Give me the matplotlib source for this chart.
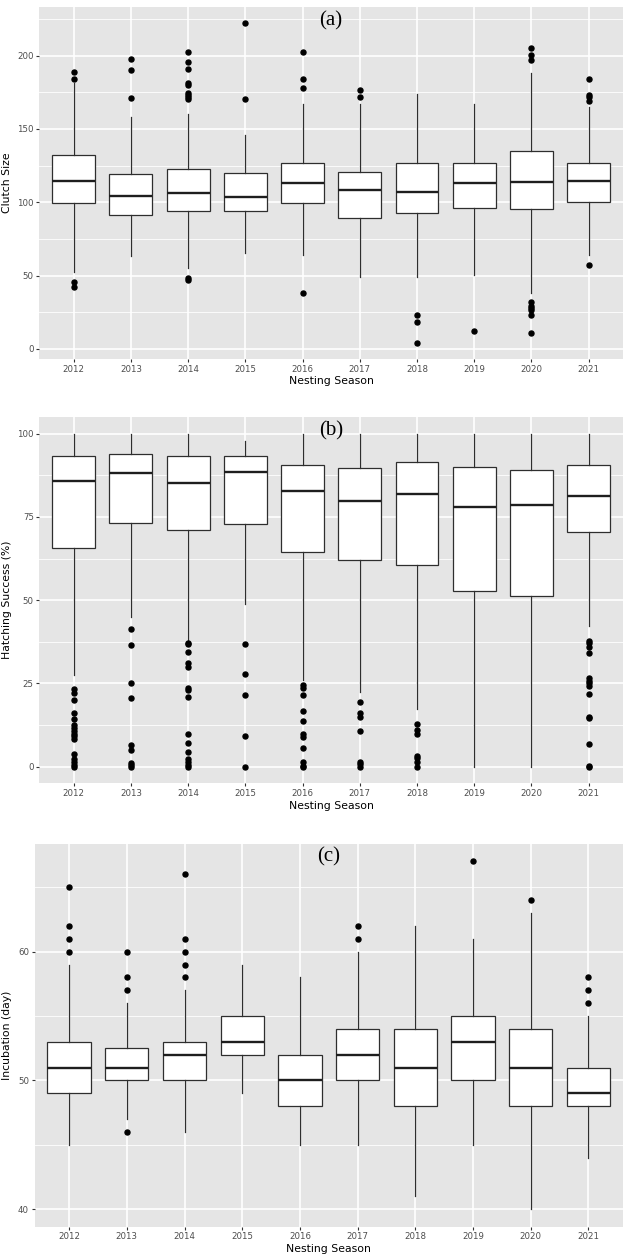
import matplotlib.pyplot as plt
from matplotlib.ticker import MultipleLocator

seasons = [2012, 2013, 2014, 2015, 2016, 2017, 2018, 2019, 2020, 2021]

# (a) clutch size
clutch_lo = [52.3, 63.2, 55.2, 65.5, 64.3, 49.0, 49.0, 50.2, 38.2, 64.0]
clutch_q1 = [99.3, 91.4, 94.3, 94.3, 99.3, 89.0, 93.0, 96.1, 95.5, 100.0]
clutch_med = [114.5, 104.5, 106.4, 103.6, 113.4, 108.2, 107.3, 113.4, 114.1, 114.8]
clutch_q3 = [132.0, 119.0, 122.7, 120.0, 127.0, 121.0, 127.0, 127.0, 135.2, 127.0]
clutch_hi = [181.0, 158.0, 160.0, 146.0, 167.0, 167.0, 174.0, 167.0, 188.0, 164.8]
clutch_out = [
    [189, 184, 45.5, 42.3],
    [198, 190, 171],
    [202.3, 195.5, 191, 181, 180, 174.8, 173.2, 171.8, 170.5, 48.2, 47.3],
    [222.3, 170.2],
    [202.3, 184, 178, 38.2],
    [176.4, 172],
    [23.2, 18.2, 4.1],
    [12.3],
    [205.2, 200.2, 197, 32.3, 29.5, 28.2, 26.8, 23.2, 11.1],
    [184, 173.4, 172, 169, 57],
]

# (b) hatching success
hatch_lo = [27.6, 45.1, 37.7, 49.0, 26.0, 22.4, 17.4, 0.0, 0.0, 42.2]
hatch_q1 = [65.6, 73.1, 71.1, 72.8, 64.6, 62.0, 60.5, 52.7, 51.3, 70.6]
hatch_med = [85.7, 88.3, 85.3, 88.4, 82.8, 79.9, 82.0, 78.0, 78.6, 81.2]
hatch_q3 = [93.3, 94.0, 93.4, 93.4, 90.6, 89.7, 91.5, 90.0, 89.1, 90.7]
hatch_hi = [100, 100, 100, 97.9, 100, 100, 100, 100, 100, 100]
hatch_out = [
    [23.2, 22.2, 20, 16.2, 14.2, 12.6, 11.6, 10.6, 9.8, 9.2, 8.4, 3.8, 2.2, 1.4, 0.6, 0],
    [41.3, 36.6, 25.2, 20.5, 6.4, 4.9, 1.2, 0.5, 0],
    [37.2, 36.8, 34.5, 31, 29.9, 23.7, 23, 20.9, 9.8, 7, 4.5, 2.4, 1.4, 0.5, 0],
    [36.9, 27.8, 21.5, 9.3, 0],
    [24.4, 23.6, 21.5, 16.8, 13.8, 9.7, 8.9, 5.7, 1.5, 0.2, 0],
    [19.5, 16.1, 14.8, 10.7, 1.5, 0.7, 0],
    [12.9, 10.9, 9.7, 3.3, 2.6, 1.3, 0],
    [],
    [],
    [37.7, 37.2, 35.8, 34.1, 26.5, 25.7, 25, 24.2, 21.8, 15, 14.6, 6.9, 0.2, 0],
]

# (c) incubation
incub_lo = [45, 47, 46, 49, 45, 45, 41, 45, 40, 44]
incub_q1 = [49, 50, 50, 52, 48, 50, 48, 50, 48, 48]
incub_med = [51, 51, 52, 53, 50, 52, 51, 53, 51, 49]
incub_q3 = [53, 52.5, 53, 55, 52, 54, 54, 55, 54, 51]
incub_hi = [59, 56, 57, 59, 58, 60, 62, 61, 63, 55]
incub_out = [
    [60, 61, 62, 65],
    [57, 58, 60, 46],
    [58, 59, 60, 61, 66],
    [],
    [],
    [61, 62],
    [],
    [67],
    [64],
    [56, 57, 58],
]

panels = [
    dict(lo=clutch_lo, q1=clutch_q1, med=clutch_med, q3=clutch_q3, hi=clutch_hi, out=clutch_out,
         rect=[0.0622, 0.7151, 0.9236, 0.2794], ylim=(-6.8, 233.2), step=50,
         ylabel='Clutch Size', tag='(a)', tag_y=0.961, ylab_x=-0.047),
    dict(lo=hatch_lo, q1=hatch_q1, med=hatch_med, q3=hatch_q3, hi=hatch_hi, out=hatch_out,
         rect=[0.0623, 0.3783, 0.9234, 0.2907], ylim=(-5, 105), step=25,
         ylabel='Hatching Success (%)', tag='(b)', tag_y=0.962, ylab_x=-0.047),
    dict(lo=incub_lo, q1=incub_q1, med=incub_med, q3=incub_q3, hi=incub_hi, out=incub_out,
         rect=[0.0546, 0.0264, 0.9312, 0.3037], ylim=(38.65, 68.35), step=10,
         ylabel='Incubation (day)', tag='(c)', tag_y=0.966, ylab_x=-0.038),
]

fig = plt.figure(figsize=(6.32, 12.6), dpi=100)

for p in panels:
    ax = fig.add_axes(p['rect'])
    ax.set_facecolor('#E5E5E5')
    stats = []
    for i in range(len(seasons)):
        stats.append(dict(whislo=p['lo'][i], q1=p['q1'][i], med=p['med'][i],
                          q3=p['q3'][i], whishi=p['hi'][i], fliers=p['out'][i]))
    ax.bxp(stats, positions=range(1, len(seasons) + 1), widths=0.75,
           showcaps=False, patch_artist=True,
           boxprops=dict(facecolor='white', edgecolor='#2E2E2E', linewidth=0.9),
           medianprops=dict(color='#1E1E1E', linewidth=1.7),
           whiskerprops=dict(color='#2E2E2E', linewidth=0.9),
           flierprops=dict(marker='o', markerfacecolor='black', markeredgecolor='black',
                           markersize=3.6, linestyle='none'))
    ax.set_xlim(0.4, len(seasons) + 0.6)
    ax.set_ylim(*p['ylim'])
    ax.set_xticks(range(1, len(seasons) + 1))
    ax.set_xticklabels([str(s) for s in seasons])
    ax.yaxis.set_major_locator(MultipleLocator(p['step']))
    ax.yaxis.set_minor_locator(MultipleLocator(p['step'] / 2))
    ax.set_axisbelow(True)
    ax.grid(True, which='major', color='white', linewidth=1.2)
    ax.grid(True, which='minor', axis='y', color='white', linewidth=0.6)
    for s in ax.spines.values():
        s.set_visible(False)
    ax.tick_params(axis='both', which='major', length=2.5, width=0.8, color='#333333',
                   labelsize=6.2, labelcolor='#4D4D4D', pad=1.5)
    ax.tick_params(axis='y', which='minor', length=0)
    ax.set_xlabel('Nesting Season', fontsize=7.8, labelpad=2)
    ax.set_ylabel(p['ylabel'], fontsize=7.8)
    ax.yaxis.set_label_coords(p['ylab_x'], 0.5)
    ax.text(0.5, p['tag_y'], p['tag'], transform=ax.transAxes, ha='center', va='center',
            fontsize=15, family='Liberation Serif')

fig.savefig('out.png', dpi=100)
